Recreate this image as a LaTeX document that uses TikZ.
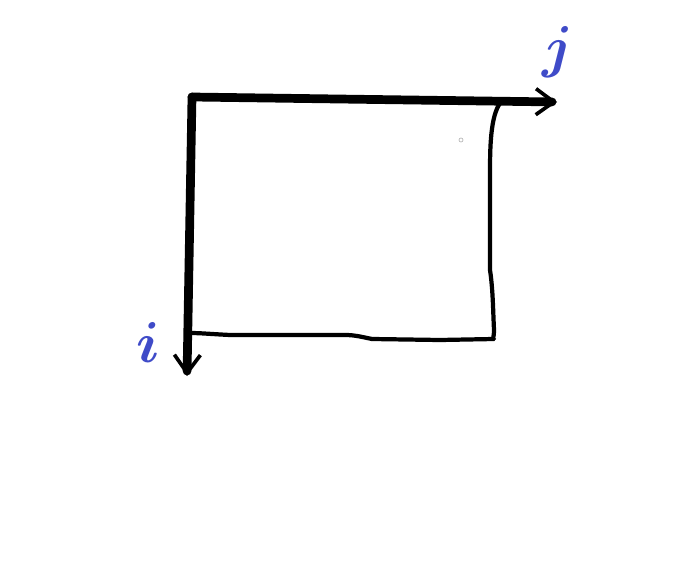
\documentclass[tikz,border=0pt]{standalone}
\usepackage{xcolor}
\usetikzlibrary{arrows.meta}
\definecolor{encre}{HTML}{000000}
\definecolor{stylo}{HTML}{3F4BC8}
\definecolor{gris}{HTML}{B8B8B8}
\tikzset{
  axe/.style={line width=6.2pt, color=encre, line cap=round, line join=round,
    -{Straight Barb[length=4.5mm, width=6.5mm, line width=2.6pt]}},
  trait/.style={line width=3pt, color=encre, line cap=round, line join=round},
  lettre/.style={font=\Huge\boldmath, scale=1.65, text=stylo, inner sep=0pt}
}
\begin{document}
\begin{tikzpicture}[x=0.025cm, y=-0.025cm]
    \useasboundingbox (0,0) rectangle (696,564);
    % Repere
    \coordinate (o) at (192,97);
    \coordinate (fj) at (557,102);
    \coordinate (fi) at (187,376);
    \draw[axe] (o) -- (fj);
    \draw[axe] (o) -- (fi);

    % Rectangle
    \coordinate (hd) at (501,102);
    \coordinate (bd) at (494,339);
    \coordinate (bg) at (190,333);
    \draw[trait] (hd) .. controls (490,115) and (490,150) .. (490,175)
      -- (490,270) .. controls (493,290) and (493,310) .. (494,330)
      .. controls (494,338) and (492,340) .. (bd)
      -- (440,340) -- (372,339) .. controls (362,337) and (355,335) .. (345,335)
      -- (230,335) .. controls (210,334) and (200,333) .. (bg);

    % Etiquettes
    \node[lettre] (j) at (558,52) {$j$};
    \node[lettre] (i) at (148,342) {$i$};
    \draw[gris, line width=0.5pt] (461,140) circle (2);
\end{tikzpicture}
\end{document}
